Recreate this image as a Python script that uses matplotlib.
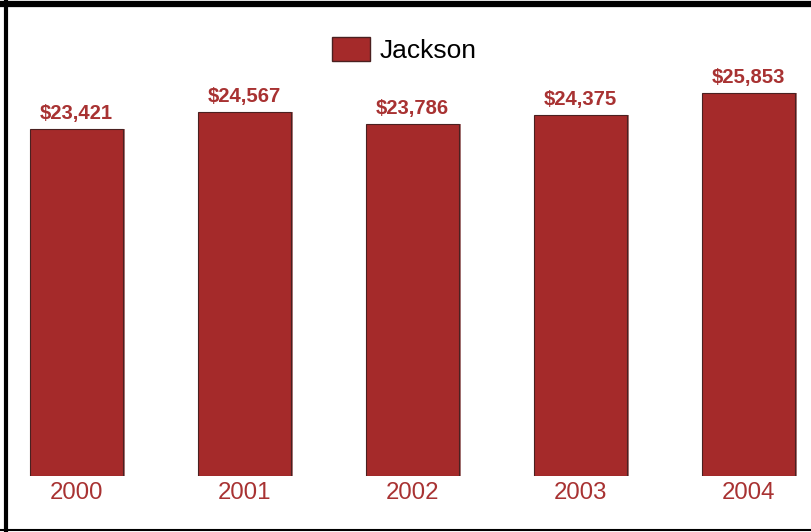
import matplotlib.pyplot as plt
from matplotlib.lines import Line2D
from matplotlib.patches import Patch

years = ["2000", "2001", "2002", "2003", "2004"]
values = [23421, 24567, 23786, 24375, 25853]
series_name = "Jackson"

bar_color = "#a52a2a"
text_color = "#a83232"

W, H = 811, 532
fig = plt.figure(figsize=(W / 100, H / 100), dpi=100)
plt.rcParams['font.family'] = ['Liberation Sans', 'DejaVu Sans']

# plot area in pixels: bottom baseline at y=476, top at y=8
ax = fig.add_axes([0, (H - 476) / H, 1, 468 / H])
px_per_unit = 347 / 23421
ax.set_ylim(0, 468 / px_per_unit)
ax.set_xlim(-76.5 / 168, (W - 76.5) / 168)

x = list(range(len(years)))
# drop shadow
ax.bar([i + 2 / 168 for i in x], values, width=0.553, color="#6b1a1a",
       alpha=0.6, zorder=1)
ax.bar(x, values, width=0.553, color=bar_color, edgecolor="#4a2020",
       linewidth=0.8, zorder=2)

for i, v in zip(x, values):
    ax.annotate(f"${v:,}", (i, v), xytext=(0, 6), textcoords="offset pixels",
                ha="center", va="bottom", fontsize=14.6, fontweight="bold",
                color=text_color)
    ax.annotate(years[i], (i, 0), xytext=(0, -6), textcoords="offset pixels",
                ha="center", va="top", fontsize=17.3, color=text_color)

ax.axis("off")

fig.legend(handles=[Patch(facecolor=bar_color, edgecolor="#4a2020",
                          label=series_name)],
           loc="center left", bbox_to_anchor=(308 / W, 1 - 50 / H),
           frameon=False, fontsize=19, handlelength=1.45,
           handleheight=1.0, handletextpad=0.35)

# frame lines
fig.add_artist(Line2D([0, 1], [1 - 4 / H, 1 - 4 / H], color="black", lw=4.5))
fig.add_artist(Line2D([5.5 / W, 5.5 / W], [0, 1], color="black", lw=3))
fig.add_artist(Line2D([0, 1], [2.5 / H, 2.5 / H], color="black", lw=1.5))

fig.savefig("out.png", dpi=100)
